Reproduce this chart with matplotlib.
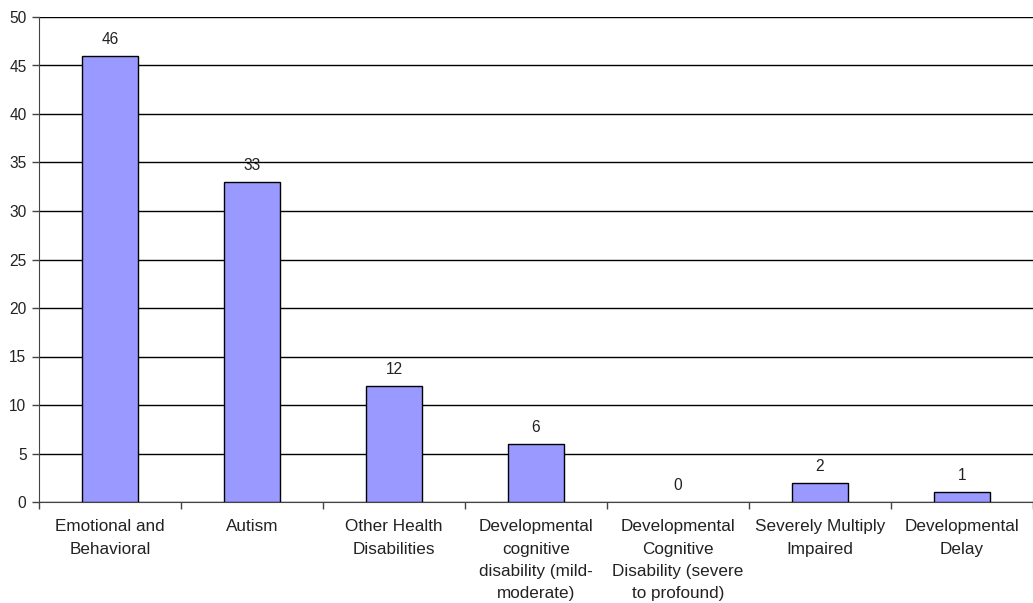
import matplotlib
matplotlib.use("Agg")
import matplotlib.pyplot as plt
import numpy as np

categories = [
    "Emotional and\nBehavioral",
    "Autism",
    "Other Health\nDisabilities",
    "Developmental\ncognitive\ndisability (mild-\nmoderate)",
    "Developmental\nCognitive\nDisability (severe\nto profound)",
    "Severely Multiply\nImpaired",
    "Developmental\nDelay",
]
counts = [46, 33, 12, 6, 0, 2, 1]
y_ticks = [0, 5, 10, 15, 20, 25, 30, 35, 40, 45, 50]

plt.rcParams["font.family"] = ["Liberation Sans", "DejaVu Sans"]

W, H = 1033, 603
fig = plt.figure(figsize=(W / 100, H / 100), dpi=100)
ax = fig.add_axes([39 / W, (H - 502) / H, (W - 39) / W, (502 - 17) / H])

x = np.arange(len(categories))
ax.set_axisbelow(True)
ax.yaxis.grid(True, color="black", linewidth=1.0)
bars = ax.bar(x, counts, width=0.4, color="#9999FF", edgecolor="black", linewidth=1.0, zorder=3)
for b, v in zip(bars, counts):
    if v == 0:
        b.set_linewidth(0)

for xi, v in zip(x, counts):
    ax.annotate(str(v), (xi, v), xytext=(0, 6.5), textcoords="offset points",
                ha="center", va="bottom", fontsize=11.2, color="#222222", zorder=4)

ax.set_xlim(-0.5, len(categories) - 0.5)
ax.set_ylim(0, 50)
ax.set_yticks(y_ticks)
ax.tick_params(axis="y", labelsize=11.2, length=5, width=1, color="#444444", pad=4, labelcolor="#222222")

# category ticks sit on the boundaries between bars
ax.set_xticks(np.arange(len(categories) + 1) - 0.5)
ax.set_xticklabels([])
ax.tick_params(axis="x", length=5, width=1, color="#444444")
for xi, lab in zip(x, categories):
    ax.text(xi, -1.8, lab, ha="center", va="top", fontsize=12.3, color="#222222",
            linespacing=1.6)

for s in ["top", "right"]:
    ax.spines[s].set_visible(False)
ax.spines["left"].set_color("#444444")
ax.spines["bottom"].set_color("#444444")

fig.savefig("out.png", dpi=100)
